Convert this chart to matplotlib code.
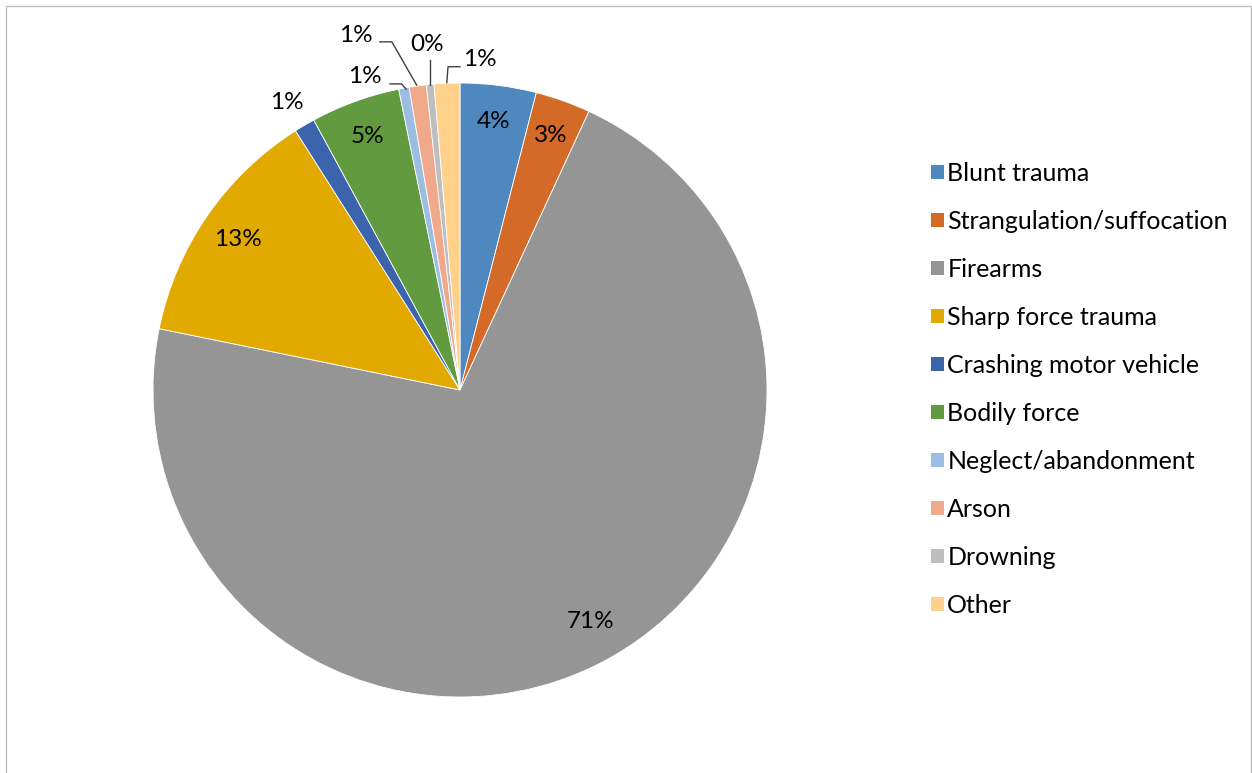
import matplotlib
matplotlib.use("Agg")
import matplotlib.pyplot as plt
from matplotlib.patches import Patch, Rectangle

plt.rcParams['font.family'] = ['Lato', 'DejaVu Sans']

# Share of homicides by cause (percent)
causes = ["Blunt trauma", "Strangulation/suffocation", "Firearms",
          "Sharp force trauma", "Crashing motor vehicle", "Bodily force",
          "Neglect/abandonment", "Arson", "Drowning", "Other"]
shares = [4.0, 2.9, 71.3, 12.8, 1.1, 4.7, 0.55, 0.9, 0.4, 1.35]
colors = ["#4F88BE", "#D36A28", "#959595", "#E2AA00", "#3B64AD",
          "#629A3F", "#9ABDE1", "#F0A98B", "#BEBEBE", "#FFD18A"]

W, H = 1252, 773
fig = plt.figure(figsize=(W / 100, H / 100), dpi=100)
fig.patches.append(Rectangle((6 / W, -0.1), (W - 7) / W, 1.1 - 6 / H,
                             transform=fig.transFigure, fill=False,
                             edgecolor="#BFBFBF", linewidth=1))

cx, cy, r = 460, 390, 307
ax = fig.add_axes([(cx - r) / W, (H - cy - r) / H, 2 * r / W, 2 * r / H])

wedges, texts, autotexts = ax.pie(
    shares, colors=colors, startangle=90, counterclock=False, radius=1,
    autopct=lambda p: f"{round(p)}%", pctdistance=0.88,
    wedgeprops=dict(edgecolor="white", linewidth=0.6),
    textprops=dict(fontsize=17.5, color="black"))

# the big slice's label sits a little off its mid-angle
autotexts[2].set_position((0.425, -0.755))
autotexts[3].set_position((-0.725, 0.49))

# small slices: labels moved outside, some with leader lines
outside = {
    4: ((-0.565, 0.935), None),
    6: ((-0.31, 1.02), [(-0.228, 0.997), (-0.190, 0.997), (-0.176, 0.980)]),
    7: ((-0.34, 1.156), [(-0.261, 1.134), (-0.222, 1.134), (-0.141, 0.993)]),
    8: ((-0.107, 1.124), [(-0.098, 1.075), (-0.098, 0.993)]),
    9: ((0.065, 1.075), [(0.0, 1.053), (-0.039, 1.053), (-0.043, 1.001)]),
}
for i, (pos, leader) in outside.items():
    autotexts[i].set_position(pos)
    if leader:
        xs, ys = zip(*leader)
        ax.plot(xs, ys, color="#404040", linewidth=1, clip_on=False)

ax.set_xlim(-1, 1)
ax.set_ylim(-1, 1)
ax.axis("off")

handles = [Patch(facecolor=c, edgecolor="none") for c in colors]
fig.legend(handles, causes, loc="upper left",
           bbox_to_anchor=(921 / W, 1 - 152 / H), frameon=False,
           fontsize=18, handlelength=0.5, handleheight=0.5,
           handletextpad=0.15, labelspacing=1.0, borderaxespad=0)

fig.savefig("out.png", dpi=100)
